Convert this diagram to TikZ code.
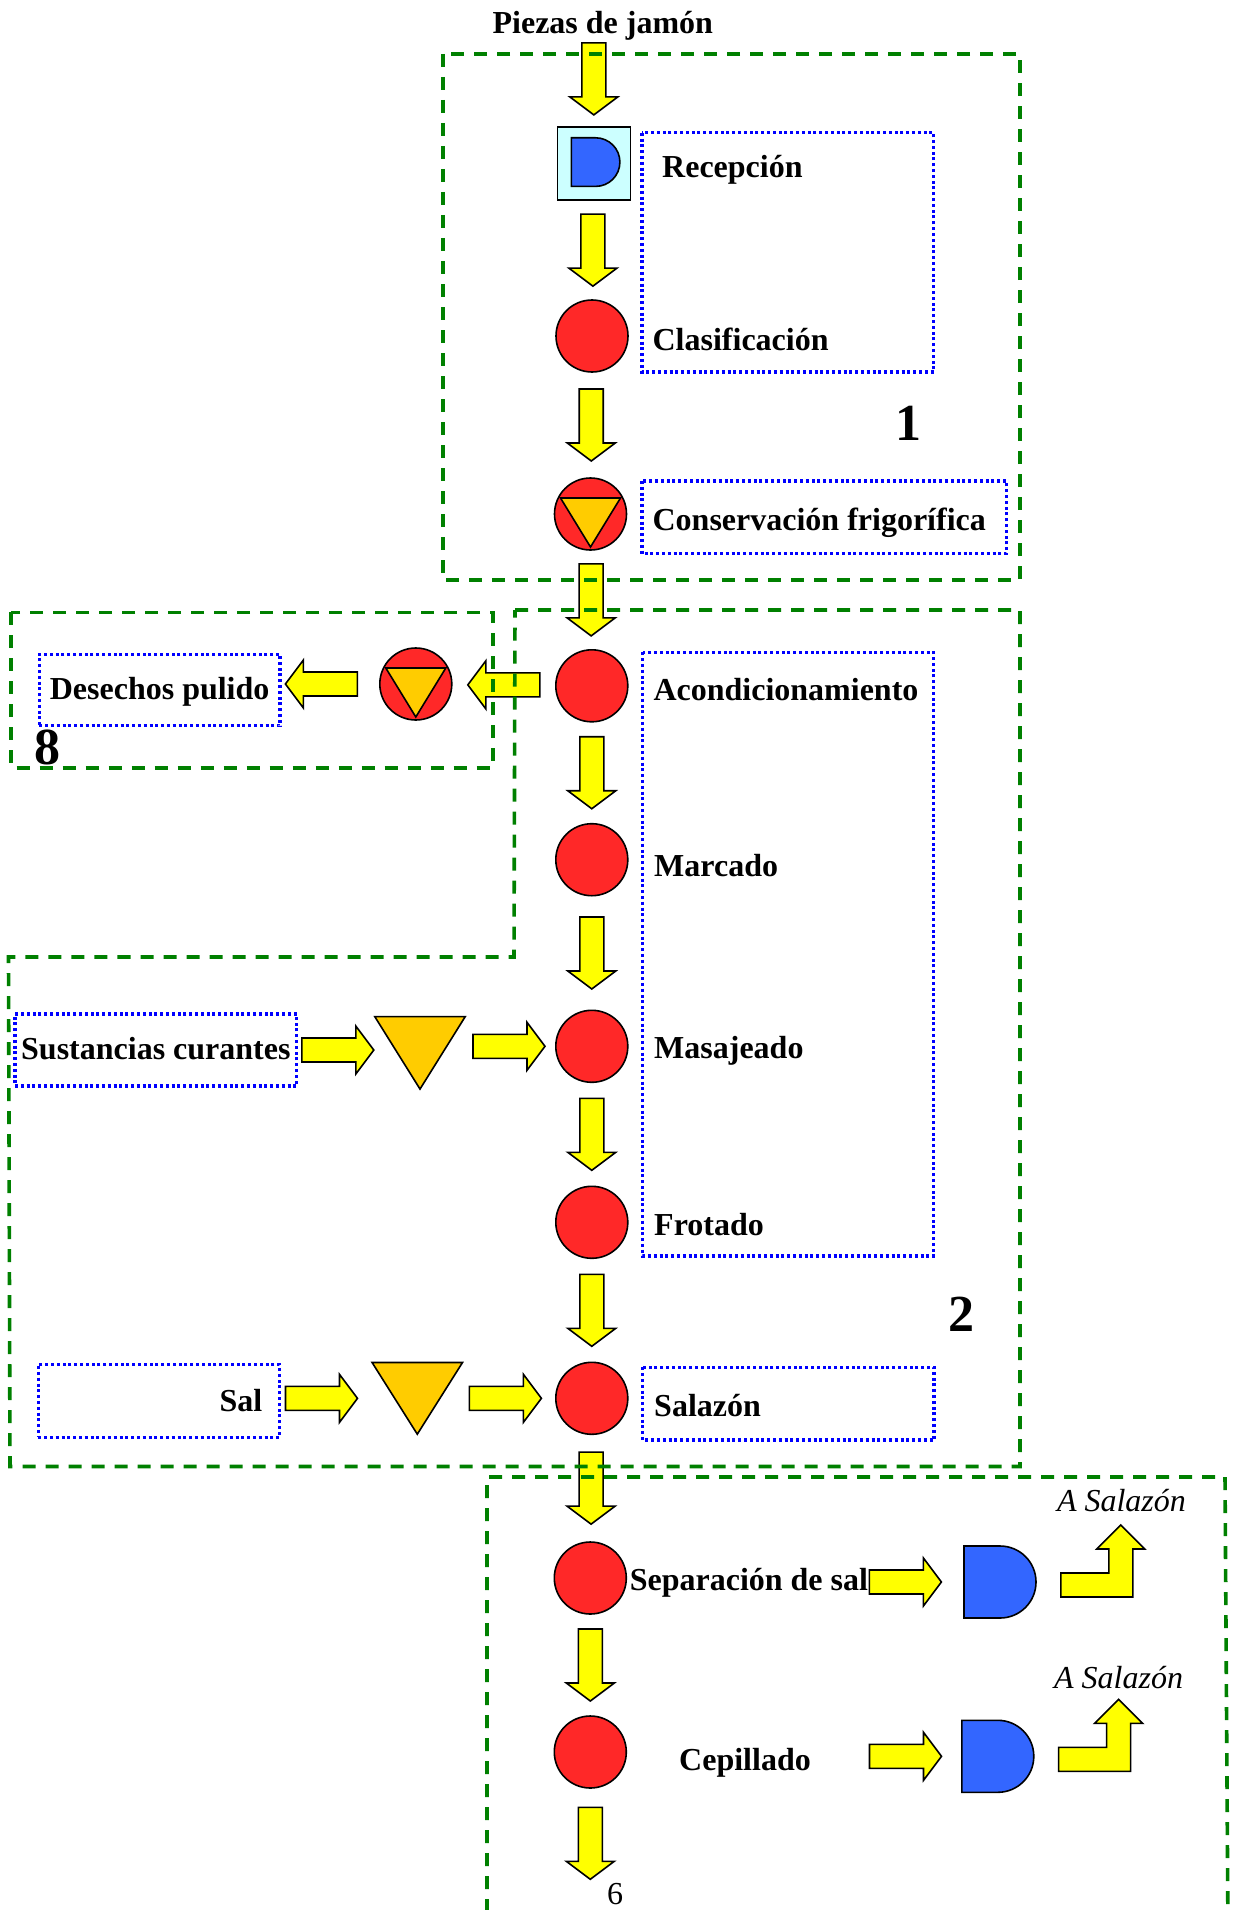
\documentclass[tikz,border=0pt]{standalone}
\usepackage{fontspec}
\setmainfont{Liberation Serif}
\usetikzlibrary{calc, shapes.misc}
\definecolor{amarillo}{RGB}{255,255,0}
\definecolor{rojo}{RGB}{255,40,40}
\definecolor{ocre}{RGB}{255,204,0}
\definecolor{azulD}{RGB}{51,102,255}
\definecolor{celeste}{RGB}{204,255,255}
\definecolor{verde}{RGB}{0,128,0}
\tikzset{
  diagrama/.style={
	x=1pt, y=-1pt, % one unit per pixel, y grows downwards
	line join=miter,
  },
  operacion/.style={circle, draw, line width=1.6pt, fill=rojo, minimum size=72pt, inner sep=0pt}, % red circle
  almacen/.style={inner sep=0pt, minimum width=90pt, minimum height=72pt}, % box holding a triangle
  triangulo/.style={draw, line width=1.6pt, fill=ocre},
  pieza/.style={rounded rectangle, rounded rectangle west arc=none, draw, line width=1.6pt, fill=azulD, minimum width=72pt, minimum height=72pt, inner sep=0pt}, % the D
  recuadro/.style={draw, line width=1.6pt, fill=celeste, minimum size=73pt, inner sep=0pt},
  flechaamarilla/.style={draw, line width=1.6pt, fill=amarillo},
  texto/.style={anchor=base west, inner sep=0pt, font=\fontsize{32}{38}\selectfont\bfseries},
  destino/.style={anchor=base west, inner sep=0pt, font=\fontsize{32}{38}\selectfont\itshape},
  numero/.style={anchor=base west, inner sep=0pt, font=\fontsize{52}{60}\selectfont\bfseries},
  marco/.style={draw=blue, line width=3.2pt, dash pattern=on 3pt off 2.8pt}, % dotted frame
  fuente/.style={marco, inner sep=0pt, text height=25pt, text depth=7pt, font=\fontsize{32}{38}\selectfont\bfseries},
  zona/.style={draw=verde, line width=3.6pt, dash pattern=on 13pt off 10pt}, % dashed zone
}
% block arrow: #1 angle, #2 centre
\newcommand{\flecha}[2]{\draw[flechaamarilla, shift={#2}, rotate=#1] (-36,-12) -- (18,-12) -- (18,-24) -- (36,0) -- (18,24) -- (18,12) -- (-36,12) -- cycle;}
% bent arrow going up, starts right of #1
\newcommand{\retorno}[1]{\draw[flechaamarilla, shift={#1}] (24,15) -- (96,15) -- (96,-33) -- (108,-33) -- (84,-57) -- (60,-33) -- (72,-33) -- (72,-9) -- (24,-9) -- cycle;}
% triangle inside a circle
\newcommand{\trint}[1]{\draw[triangulo] ($(#1)+(-30,-16)$) -- ($(#1)+(30,-16)$) -- ($(#1)+(0,33)$) -- cycle;}

\begin{document}
\begin{tikzpicture}[diagrama]
\useasboundingbox (0,0) rectangle (1232,1910);

% column
\node[texto] (pie) at (492.4,33.7) {Piezas de jamón};
\node[recuadro] (rec) at (593.8,163.8) {};
\node[pieza, minimum width=48.6pt, minimum height=48.6pt] (drec) at (595.6,162.1) {};
\node[operacion] (cla) at (592,336) {};
\node[operacion] (con) at (590.5,514) {};
\trint{con}
\node[operacion] (aco) at (591.8,685.8) {};
\node[operacion] (mar) at (591.8,859.7) {};
\node[operacion] (mas) at (591.8,1046.3) {};
\node[operacion] (fro) at (591.8,1222.3) {};
\node[operacion] (sala) at (591.8,1398.3) {};
\node[operacion] (sep) at (590.3,1578) {};
\node[operacion] (cep) at (590.3,1752) {};

% side branches
\node[operacion] (pul) at (415.8,684) {};
\trint{pul}
\node[fuente, minimum width=240.7pt, minimum height=71.4pt] (des) at (159.65,690) {Desechos pulido};
\node[fuente, minimum width=281.7pt, minimum height=72pt] (sus) at (155.85,1050) {Sustancias curantes};
\node[almacen] (tri1) at (420,1052.85) {};
\draw[triangulo] (tri1.north west) -- (tri1.north east) -- (tri1.south) -- cycle;
\node[fuente, minimum width=241pt, minimum height=73pt, text width=207pt, align=right, text height=27pt, text depth=5pt] (sal) at (158.8,1400.8) {Sal};
\node[almacen, minimum height=71.3pt] (tri2) at (417.3,1398.35) {};
\draw[triangulo] (tri2.north west) -- (tri2.north east) -- (tri2.south) -- cycle;
\node[pieza] (d1) at (1000,1582) {};
\node[pieza] (d2) at (997.8,1756.3) {};

% labels
\node[texto] (trec) at (662,178) {Recepción};
\node[texto] (tcla) at (652.4,350) {Clasificación};
\node[texto] (tcon) at (652.4,530.8) {Conservación frigorífica};
\node[texto] (taco) at (653.3,700) {Acondicionamiento};
\node[texto] (tmar) at (654,876.7) {Marcado};
\node[texto] (tmas) at (654,1058.3) {Masajeado};
\node[texto] (tfro) at (654,1235) {Frotado};
\node[texto] (tsala) at (654,1416) {Salazón};
\node[texto] (tsep) at (629.6,1590.7) {Separación de sal};
\node[texto] (tcep) at (679,1770) {Cepillado};
\node[destino] (ds1) at ($(d1.east)+(20,-70.7)$) {A Salazón};
\node[destino] (ds2) at ($(d2.east)+(19.3,-68.3)$) {A Salazón};
\node[texto, font=\fontsize{32}{38}\selectfont] (n6) at (607,1904) {6};
\node[numero] (n1) at (895,440) {1};
\node[numero] (n8) at (34,764) {8};
\node[numero] (n2) at (948,1331.7) {2};

% arrows down the column
\flecha{270}{($(rec.north)+(0,-47.6)$)}
\flecha{270}{($(rec.south)!0.5!(cla.north)$)}
\flecha{270}{($(cla.south)!0.5!(con.north)$)}
\flecha{270}{($(con.south)!0.5!(aco.north)$)}
\flecha{270}{($(aco.south)!0.5!(mar.north)$)}
\flecha{270}{($(mar.south)!0.5!(mas.north)$)}
\flecha{270}{($(mas.south)!0.5!(fro.north)$)}
\flecha{270}{($(fro.south)!0.5!(sala.north)$)}
\flecha{270}{($(sala.south)!0.5!(sep.north)$)}
\flecha{270}{($(sep.south)!0.5!(cep.north)$)}
\flecha{270}{($(cep.south)+(0,54.5)$)}
% arrows across
\flecha{180}{($(pul.east)!0.5!(aco.west)$)}
\flecha{180}{($(pul.west)+(-57.6,0)$)}
\flecha{0}{($(sus.east)+(39.5,0)$)}
\flecha{0}{($(mas.west)+(-46,0)$)}
\flecha{0}{($(tri2.west)+(-50.6,0)$)}
\flecha{0}{($(sala.west)+(-49.6,0)$)}
\flecha{0}{($(d1.west)+(-57.8,0)$)}
\flecha{0}{($(d2.west)+(-55.5,0)$)}
\retorno{(d1.east)}
\retorno{(d2.east)}

% frames
\draw[marco] (642,132.8) rectangle (933.7,372);
\draw[marco] (642,481) rectangle (1006.4,553.8);
\draw[marco] (642.7,652.3) rectangle (933.5,1256);
\draw[marco] (642.7,1367.3) rectangle (934,1440);
\draw[zona] (443,54) rectangle (1020,580);
\draw[zona] (11,612.3) rectangle (492.7,767.7);
\draw[zona] (515,610) -- (1020,610) -- (1020,1466.5) -- (10,1466.5) -- (8.5,957) -- (514,957) -- cycle;
\draw[zona] (487,1935) -- (487,1477) -- (1225,1477) -- (1228,1935);
\end{tikzpicture}
\end{document}
